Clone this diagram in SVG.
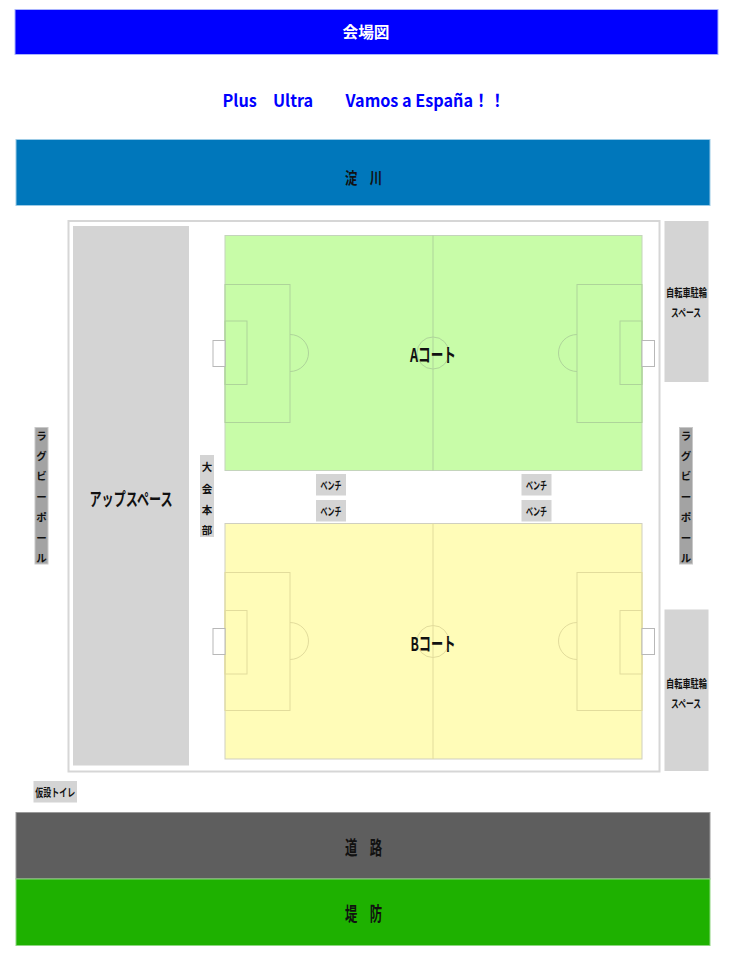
<svg xmlns="http://www.w3.org/2000/svg" width="730" height="960" viewBox="0 0 730 960">
<style>
text{font-family:"Noto Sans CJK JP","Liberation Sans",sans-serif;font-weight:bold;fill:#111;dominant-baseline:central;text-anchor:middle}
.gray{fill:#d4d4d4}
.pole{fill:#a3a3a3;stroke:#c8c8c8;stroke-width:1}
.ln{fill:none;stroke-width:1}
.a .ln{stroke:#aed49a}
.b .ln{stroke:#e2dc9c}
.goal{fill:#fff;stroke:#b8b8b8;stroke-width:1}
.sm{font-size:11px}
.v{font-size:10.5px}
</style>
<rect width="730" height="960" fill="#fff"/>
<g id="title">
<rect x="15" y="9.5" width="703" height="45" fill="#0000ff" stroke="#aab4ff" stroke-width="1"/>
<text x="366" y="31" style="fill:#fff;font-size:16px" textLength="47" lengthAdjust="spacingAndGlyphs">会場図</text>
</g>
<g id="slogan">
<text x="364" y="99" style="fill:#0000ff;font-size:17px" textLength="283" lengthAdjust="spacingAndGlyphs">Plus　Ultra　　Vamos a España！！</text>
</g>
<g id="river">
<rect x="16" y="139.5" width="694" height="66" fill="#0077bb" stroke="#9ccbe6" stroke-width="1"/>
<text x="363.5" y="176.5" style="font-size:16px" textLength="37" lengthAdjust="spacingAndGlyphs">淀　川</text>
</g>
<g id="venue">
<rect x="68.5" y="221" width="591" height="550.5" fill="#fff" stroke="#d6d6d6" stroke-width="2"/>
</g>
<g id="up-space">
<rect class="gray" x="73" y="226" width="116" height="539.5"/>
<text x="131" y="498" style="font-size:18px" textLength="83" lengthAdjust="spacingAndGlyphs">アップスペース</text>
</g>
<g id="court-a" class="a">
<rect x="225" y="235.5" width="417" height="235" fill="#c8fca8" stroke="#c4d4bc" stroke-width="1"/>
<line class="ln" x1="433" y1="235.5" x2="433" y2="470.5"/>
<rect class="ln" x="225" y="284.5" width="65" height="138"/>
<rect class="ln" x="225" y="321" width="22" height="63.5"/>
<path class="ln" d="M290 334.5 A18.5 18.5 0 0 1 290 371.5"/>
<rect class="ln" x="577" y="284.5" width="65" height="138"/>
<rect class="ln" x="620" y="321" width="22" height="63.5"/>
<path class="ln" d="M577 334.5 A18.5 18.5 0 0 0 577 371.5"/>
<circle class="ln" cx="433" cy="353" r="16"/>
<rect class="goal" x="213" y="340.5" width="12" height="26"/>
<rect class="goal" x="642" y="340.5" width="12.5" height="26"/>
<text x="433" y="353" style="font-size:19px" textLength="46" lengthAdjust="spacingAndGlyphs">Aコート</text>
</g>
<g id="court-b" class="b">
<rect x="225" y="523.5" width="417" height="235.5" fill="#fffcb8" stroke="#cfcfc0" stroke-width="1"/>
<line class="ln" x1="433" y1="523.5" x2="433" y2="759"/>
<rect class="ln" x="225" y="572.5" width="65" height="138"/>
<rect class="ln" x="225" y="610.5" width="22" height="63.5"/>
<path class="ln" d="M290 622.5 A18.5 18.5 0 0 1 290 659.5"/>
<rect class="ln" x="577" y="572.5" width="65" height="138"/>
<rect class="ln" x="620" y="610.5" width="22" height="63.5"/>
<path class="ln" d="M577 622.5 A18.5 18.5 0 0 0 577 659.5"/>
<circle class="ln" cx="433" cy="641.5" r="16"/>
<rect class="goal" x="213" y="628.5" width="12" height="26"/>
<rect class="goal" x="642" y="628.5" width="12.5" height="26"/>
<text x="433" y="642" style="font-size:19px" textLength="45" lengthAdjust="spacingAndGlyphs">Bコート</text>
</g>
<g id="hq">
<rect class="gray" x="200" y="455" width="14" height="82"/>
<text class="v" x="207" y="466">大</text>
<text class="v" x="207" y="488">会</text>
<text class="v" x="207" y="509">本</text>
<text class="v" x="207" y="529">部</text>
</g>
<g id="bench-1">
<rect class="gray" x="316" y="474" width="30" height="21.5"/>
<text class="sm" x="331" y="485" textLength="21" lengthAdjust="spacingAndGlyphs">ベンチ</text>
</g>
<g id="bench-2">
<rect class="gray" x="316" y="500" width="30" height="21.5"/>
<text class="sm" x="331" y="511" textLength="21" lengthAdjust="spacingAndGlyphs">ベンチ</text>
</g>
<g id="bench-3">
<rect class="gray" x="521.5" y="474" width="30" height="21.5"/>
<text class="sm" x="536.5" y="485" textLength="21" lengthAdjust="spacingAndGlyphs">ベンチ</text>
</g>
<g id="bench-4">
<rect class="gray" x="521.5" y="500" width="30" height="21.5"/>
<text class="sm" x="536.5" y="511" textLength="21" lengthAdjust="spacingAndGlyphs">ベンチ</text>
</g>
<g id="bike-1">
<rect class="gray" x="664.5" y="221" width="44" height="161"/>
<text x="686.5" y="292" style="font-size:11px" textLength="41" lengthAdjust="spacingAndGlyphs">自転車駐輪</text>
<text x="686" y="311.5" style="font-size:11px" textLength="30" lengthAdjust="spacingAndGlyphs">スペース</text>
</g>
<g id="bike-2">
<rect class="gray" x="664.5" y="609.5" width="44" height="161.5"/>
<text x="686.5" y="682.5" style="font-size:11px" textLength="41" lengthAdjust="spacingAndGlyphs">自転車駐輪</text>
<text x="686" y="702.5" style="font-size:11px" textLength="30" lengthAdjust="spacingAndGlyphs">スペース</text>
</g>
<g id="rugby-left">
<rect class="pole" x="35" y="427.5" width="13" height="136.5"/>
<text class="v" x="41.5" y="435.5">ラ</text>
<text class="v" x="41.5" y="455.5">グ</text>
<text class="v" x="41.5" y="475.5">ビ</text>
<text class="v" x="41.5" y="496">ー</text>
<text class="v" x="41.5" y="516.5">ポ</text>
<text class="v" x="41.5" y="537">ー</text>
<text class="v" x="41.5" y="557">ル</text>
</g>
<g id="rugby-right">
<rect class="pole" x="679.5" y="427.5" width="13" height="136.5"/>
<text class="v" x="686" y="435.5">ラ</text>
<text class="v" x="686" y="455.5">グ</text>
<text class="v" x="686" y="475.5">ビ</text>
<text class="v" x="686" y="496">ー</text>
<text class="v" x="686" y="516.5">ポ</text>
<text class="v" x="686" y="537">ー</text>
<text class="v" x="686" y="557">ル</text>
</g>
<g id="toilet">
<rect class="gray" x="33.5" y="781" width="43.5" height="21.5"/>
<text x="55.3" y="792" style="font-size:11px" textLength="40" lengthAdjust="spacingAndGlyphs">仮設トイレ</text>
</g>
<g id="road">
<rect x="16" y="812.5" width="694" height="66.5" fill="#5e5e5e" stroke="#9a9a9a" stroke-width="1"/>
<text x="363.5" y="846.5" style="font-size:19px" textLength="37" lengthAdjust="spacingAndGlyphs">道　路</text>
</g>
<g id="levee">
<rect x="16" y="879" width="694" height="66.5" fill="#1eb100" stroke="#8ed680" stroke-width="1"/>
<text x="363.5" y="912.5" style="font-size:19px" textLength="37" lengthAdjust="spacingAndGlyphs">堤　防</text>
</g>
<g id="connectors"/>
</svg>
